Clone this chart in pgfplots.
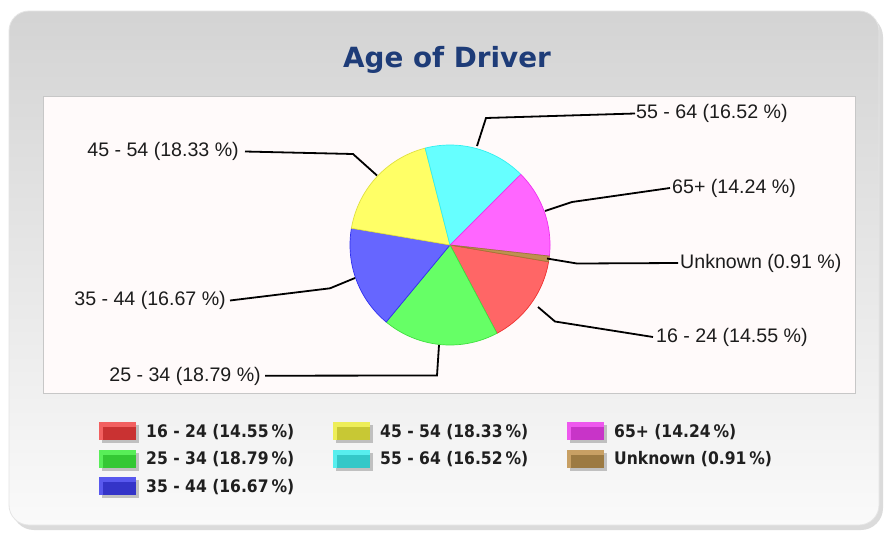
\documentclass[border=0pt]{standalone}
\usepackage{fontspec}
\setmainfont{Liberation Sans}
\newfontfamily\titlefont{DejaVu Sans}
\newfontfamily\legfont{DejaVu Sans}[FakeStretch=0.9]
\usepackage{pgfplots}
\pgfplotsset{compat=1.18}

% slice fills and edges
\definecolor{cR}{HTML}{FF6666}\definecolor{eR}{HTML}{F03030}
\definecolor{cG}{HTML}{66FF66}\definecolor{eG}{HTML}{40E040}
\definecolor{cB}{HTML}{6666FF}\definecolor{eB}{HTML}{3030F0}
\definecolor{cY}{HTML}{FFFF66}\definecolor{eY}{HTML}{E0E040}
\definecolor{cC}{HTML}{66FFFF}\definecolor{eC}{HTML}{30F0F0}
\definecolor{cM}{HTML}{FF66FF}\definecolor{eM}{HTML}{F030F0}
\definecolor{cU}{HTML}{C09050}\definecolor{eU}{HTML}{A07838}
% legend swatches (light / dark)
\definecolor{lR}{HTML}{F26060}\definecolor{dR}{HTML}{C93232}
\definecolor{lG}{HTML}{58EE58}\definecolor{dG}{HTML}{34C834}
\definecolor{lB}{HTML}{5858EE}\definecolor{dB}{HTML}{3434C8}
\definecolor{lY}{HTML}{EEEE58}\definecolor{dY}{HTML}{C8C834}
\definecolor{lC}{HTML}{58EEEE}\definecolor{dC}{HTML}{34C8C8}
\definecolor{lM}{HTML}{EE58EE}\definecolor{dM}{HTML}{C834C8}
\definecolor{lU}{HTML}{C8A064}\definecolor{dU}{HTML}{9C7A42}
\definecolor{titleblue}{HTML}{1E3C78}
\definecolor{plotbg}{HTML}{FFFAFA}
\definecolor{txt}{HTML}{1C1C1C}

% data: shares in percent, clockwise from the start angle
\def\pStart{-9.6}
\def\pA{14.55}% 16 - 24
\def\pB{18.79}% 25 - 34
\def\pC{16.67}% 35 - 44
\def\pD{18.33}% 45 - 54
\def\pE{16.52}% 55 - 64
\def\pF{14.24}% 65+
\def\pG{0.91}%  Unknown
\pgfmathsetmacro\aA{\pStart-3.6*\pA}
\pgfmathsetmacro\aB{\aA-3.6*\pB}
\pgfmathsetmacro\aC{\aB-3.6*\pC}
\pgfmathsetmacro\aD{\aC-3.6*\pD}
\pgfmathsetmacro\aE{\aD-3.6*\pE}
\pgfmathsetmacro\aF{\aE-3.6*\pF}
\pgfmathsetmacro\aG{\aF-3.6*\pG}

\newcommand\slice[4]{%
  \addplot[forget plot, fill=#3, draw=#4, line width=0.7pt, domain=#2:#1, samples=60]
    ({450+100*cos(x)},{245-100*sin(x)}) -- (axis cs:450,245) -- cycle;}

\pgfplotsset{swatch/.style 2 args={draw=none, mark=none, legend image code/.code={
  \path[draw=none] (0pt,-12pt) rectangle (40pt,12pt);
  \path[draw=none, fill=black!45, fill opacity=0.5] (3pt,-12pt) rectangle (40pt,6pt);
  \path[draw=none, fill=#1] (0pt,-9pt) rectangle (37pt,9pt);
  \path[draw=none, fill=#2] (4pt,-9pt) rectangle (37pt,4pt);
}}}

\newcommand\lbl{\fontsize{19.6}{23}\selectfont\color{txt}}

\begin{document}
\begin{tikzpicture}
\begin{axis}[
  at={(0,0)}, anchor=south west,
  scale only axis, width=885pt, height=536pt,
  xmin=0, xmax=885, ymin=0, ymax=536, y dir=reverse,
  hide axis, clip=false,
  legend columns=3,
  legend cell align=left,
  legend style={at={(axis cs:99,419)}, anchor=north west, draw=none, fill=none,
    inner sep=0pt, row sep=3.5pt, column sep=0pt,
    nodes={inner sep=0pt},
    font=\legfont\bfseries\fontsize{17.3}{20}\selectfont, text=black!88,
    /tikz/every odd column/.append style={column sep=7pt}},
]
% background and panel
\fill[white] (axis cs:0,0) rectangle (axis cs:885,536);
\fill[black!14, rounded corners=22pt] (axis cs:12,15) rectangle (axis cs:883,530);
\shade[rounded corners=20pt, top color=black!17, middle color=black!8, bottom color=black!2]
  (axis cs:9,11) rectangle (axis cs:879,525);
\draw[black!10, line width=0.8pt, rounded corners=20pt] (axis cs:9,11) rectangle (axis cs:879,525);
% title
\node[anchor=base, font=\titlefont\bfseries\fontsize{27.8}{32}\selectfont, text=titleblue]
  at (axis cs:447,67.5) {Age of Driver};
% plot area
\draw[fill=plotbg, draw=black!22, line width=1pt] (axis cs:43.5,96) rectangle (axis cs:855,393);

% pie slices
\slice{\pStart}{\aA}{cR}{eR}
\slice{\aA}{\aB}{cG}{eG}
\slice{\aB}{\aC}{cB}{eB}
\slice{\aC}{\aD}{cY}{eY}
\slice{\aD}{\aE}{cC}{eC}
\slice{\aE}{\aF}{cM}{eM}
\slice{\aF}{\aG}{cU}{eU}

% leader lines
\addplot[forget plot, black, line width=1.8pt] coordinates {(477,146) (486,118) (635,113.5)};
\addplot[forget plot, black, line width=1.8pt] coordinates {(545,211) (572,202) (670,188)};
\addplot[forget plot, black, line width=1.8pt] coordinates {(547,258.5) (577,263.5) (678,263)};
\addplot[forget plot, black, line width=1.8pt] coordinates {(538,307) (555,321.5) (653,337)};
\addplot[forget plot, black, line width=1.8pt] coordinates {(439,345) (437,375.5) (265,375.7)};
\addplot[forget plot, black, line width=1.8pt] coordinates {(355,278) (330,288.3) (230,300.5)};
\addplot[forget plot, black, line width=1.8pt] coordinates {(377,175.5) (353,154) (245,151.5)};

% labels
\node[anchor=west, inner sep=0pt, font=\lbl] at (axis cs:636,113.5) {55 - 64 (16.52 \%)};
\node[anchor=west, inner sep=0pt, font=\lbl] at (axis cs:672,188) {65+ (14.24 \%)};
\node[anchor=west, inner sep=0pt, font=\lbl] at (axis cs:680,263.5) {Unknown (0.91 \%)};
\node[anchor=west, inner sep=0pt, font=\lbl] at (axis cs:656,337) {16 - 24 (14.55 \%)};
\node[anchor=east, inner sep=0pt, font=\lbl] at (axis cs:261,376) {25 - 34 (18.79 \%)};
\node[anchor=east, inner sep=0pt, font=\lbl] at (axis cs:226,300.5) {35 - 44 (16.67 \%)};
\node[anchor=east, inner sep=0pt, font=\lbl] at (axis cs:239,151.5) {45 - 54 (18.33 \%)};

% legend (row-wise order to give the column layout)
\addlegendimage{swatch={lR}{dR}}\addlegendentry{\makebox[187pt][l]{16 - 24 (14.55\,\%)}}
\addlegendimage{swatch={lY}{dY}}\addlegendentry{\makebox[187pt][l]{45 - 54 (18.33\,\%)}}
\addlegendimage{swatch={lM}{dM}}\addlegendentry{\makebox[187pt][l]{65+ (14.24\,\%)}}
\addlegendimage{swatch={lG}{dG}}\addlegendentry{\makebox[187pt][l]{25 - 34 (18.79\,\%)}}
\addlegendimage{swatch={lC}{dC}}\addlegendentry{\makebox[187pt][l]{55 - 64 (16.52\,\%)}}
\addlegendimage{swatch={lU}{dU}}\addlegendentry{\makebox[187pt][l]{Unknown (0.91\,\%)}}
\addlegendimage{swatch={lB}{dB}}\addlegendentry{\makebox[187pt][l]{35 - 44 (16.67\,\%)}}
\end{axis}
\end{tikzpicture}
\end{document}
